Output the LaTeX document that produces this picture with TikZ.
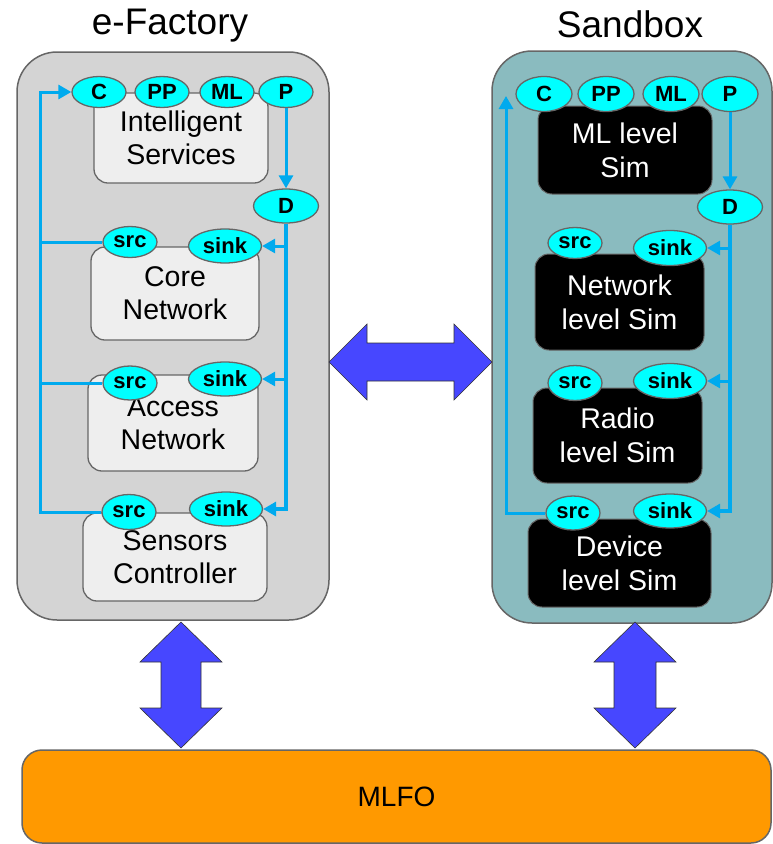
\documentclass[tikz,border=0pt]{standalone}
\usepackage{fontspec}
\setmainfont{Liberation Sans}
\usetikzlibrary{arrows.meta,shapes.geometric}
\pgfdeclarelayer{bg}
\pgfdeclarelayer{mid}
\pgfsetlayers{bg,mid,main}
\definecolor{contgray}{HTML}{D4D4D4}
\definecolor{boxgray}{HTML}{EEEEEE}
\definecolor{teal2}{HTML}{8ABBBF}
\definecolor{cyanE}{HTML}{00FFFF}
\definecolor{flowblue}{HTML}{00AAEE}
\definecolor{bigarrow}{HTML}{4747FF}
\definecolor{mlfo}{HTML}{FF9900}
\definecolor{edge}{HTML}{666666}
\tikzset{
  container/.style={draw=edge, line width=1.5pt, rounded corners=40pt, inner sep=0pt},
  lbox/.style={draw=edge, line width=1.3pt, fill=boxgray, rounded corners=14pt, align=center,
    font=\fontsize{28.5}{33}\selectfont, inner sep=0pt},
  sbox/.style={draw=edge, line width=1pt, fill=black, text=white, rounded corners=14pt, align=center,
    font=\fontsize{28.5}{34}\selectfont, inner sep=0pt},
  port/.style={ellipse, draw=edge, line width=1.3pt, fill=cyanE, inner sep=0pt,
    minimum width=54pt, minimum height=31pt, font=\fontsize{22}{22}\selectfont\bfseries},
  wport/.style={port, minimum width=73pt, minimum height=34pt},
  dport/.style={port, minimum width=65pt, minimum height=34pt},
  flow/.style={draw=flowblue, line width=3pt},
  flowarr/.style={flow, -{Triangle[length=13pt,width=14pt]}},
  fat/.style={fill=bigarrow, draw=black!80, line width=0.6pt, line join=miter},
  title/.style={font=\fontsize{37}{40}\selectfont, anchor=base}
}
\begin{document}
\begin{tikzpicture}[x=1pt,y=-1pt]
\useasboundingbox (0,0) rectangle (773,844);

% titles
\node[title] (tEF) at (170,34) {e-Factory};
\node[title] (tSB) at (630,37) {Sandbox};

\begin{pgfonlayer}{bg}
% containers
\node[container, fill=contgray, minimum width=312pt, minimum height=568pt] (EF) at (173,336) {};
\node[container, fill=teal2, minimum width=280pt, minimum height=572pt] (SB) at (632,337) {};

% left inner boxes
\node[lbox, minimum width=174pt, minimum height=90pt] (IS) at (181,138) {Intelligent\\Services};
\node[lbox, minimum width=168pt, minimum height=93pt] (CN) at (175,293.5) {Core\\Network};
\node[lbox, minimum width=170pt, minimum height=96pt] (AN) at (173,423) {Access\\Network};
\node[lbox, minimum width=184pt, minimum height=88pt] (SC) at (175,557) {Sensors\\Controller};

% right inner boxes
\node[sbox, minimum width=174pt, minimum height=88pt] (MLS) at (625,150) {ML level\\Sim};
\node[sbox, minimum width=169pt, minimum height=96pt] (NLS) at (619.5,302) {Network\\level Sim};
\node[sbox, minimum width=169pt, minimum height=95pt] (RLS) at (617.5,435.5) {Radio\\level Sim};
\node[sbox, minimum width=183pt, minimum height=88pt] (DLS) at (619.5,563) {Device\\level Sim};
\end{pgfonlayer}

% connector coordinates
\coordinate (Lt) at (40,92);
\coordinate (Lb) at (40,512);
\coordinate (Rt) at (506,96);

% left ports
\node[port] (lC) at (99,92) {C};
\node[port] (lPP) at (162,92) {PP};
\node[port] (lML) at (227,92) {ML};
\node[port] (lP) at (286,92) {P};
\node[dport] (lD) at (286,206) {D};
\node[port, minimum height=31pt] (cSrc) at (130,242) {src};
\node[wport] (cSink) at (225,246) {sink};
\node[port, minimum height=34pt] (aSrc) at (130,383) {src};
\node[wport] (aSink) at (225,379) {sink};
\node[port, minimum height=35pt] (sSrc) at (129,512) {src};
\node[wport] (sSink) at (226,509) {sink};

% right ports
\node[port, minimum width=56pt, minimum height=35pt] (rC) at (544,94) {C};
\node[port, minimum width=56pt, minimum height=35pt] (rPP) at (606,94) {PP};
\node[port, minimum width=56pt, minimum height=35pt] (rML) at (671,94) {ML};
\node[port, minimum width=56pt, minimum height=35pt] (rP) at (730,94) {P};
\node[dport] (rD) at (730,207) {D};
\node[port, minimum height=31pt] (nSrc) at (575,243) {src};
\node[wport, minimum height=35pt] (nSink) at (670,248) {sink};
\node[port, minimum height=35pt] (raSrc) at (575,383) {src};
\node[wport, minimum height=35pt] (raSink) at (670,381) {sink};
\node[port, minimum height=34pt] (dSrc) at (573,513) {src};
\node[wport, minimum height=34pt] (dSink) at (670,511) {sink};

\begin{pgfonlayer}{mid}
% left flows
\draw[flowarr] (sSrc.west) -- (Lb) -- (Lt) -- (lC.west);
\draw[flow] (cSrc.west) -- (cSrc.west -| Lt);
\draw[flow] (aSrc.west) -- (aSrc.west -| Lt);
\draw[flowarr] (lP.south) -- (lD.north);
\draw[flowarr, line width=3.5pt] (lD.south) |- (sSink.east);
\draw[flowarr] (lD.south |- cSink.east) -- (cSink.east);
\draw[flowarr] (lD.south |- aSink.east) -- (aSink.east);

% right flows
\draw[flowarr] (dSrc.west) -| (Rt);
\draw[flowarr] (rP.south) -- (rD.north);
\draw[flowarr, line width=3.5pt] (rD.south) |- (dSink.east);
\draw[flowarr] (rD.south |- nSink.east) -- (nSink.east);
\draw[flowarr] (rD.south |- raSink.east) -- (raSink.east);
\end{pgfonlayer}

% big double arrows
\draw[fat] (329,362) -- (367,324) -- (367,343) -- (454,343) -- (454,324) -- (492,362)
  -- (454,400) -- (454,381) -- (367,381) -- (367,400) -- cycle;
\draw[fat] (181,622) -- (222,662) -- (201,662) -- (201,708) -- (222,708) -- (181,748)
  -- (140,708) -- (161,708) -- (161,662) -- (140,662) -- cycle;
\draw[fat] (635,622) -- (676,662) -- (656,662) -- (656,708) -- (676,708) -- (635,748)
  -- (594,708) -- (614,708) -- (614,662) -- (594,662) -- cycle;

% MLFO
\node[draw=edge, line width=1.5pt, fill=mlfo, rounded corners=20pt, minimum width=749pt,
  minimum height=93pt, inner sep=0pt, font=\fontsize{28}{30}\selectfont] (MLFO) at (396.5,796.5) {MLFO};
\end{tikzpicture}
\end{document}
